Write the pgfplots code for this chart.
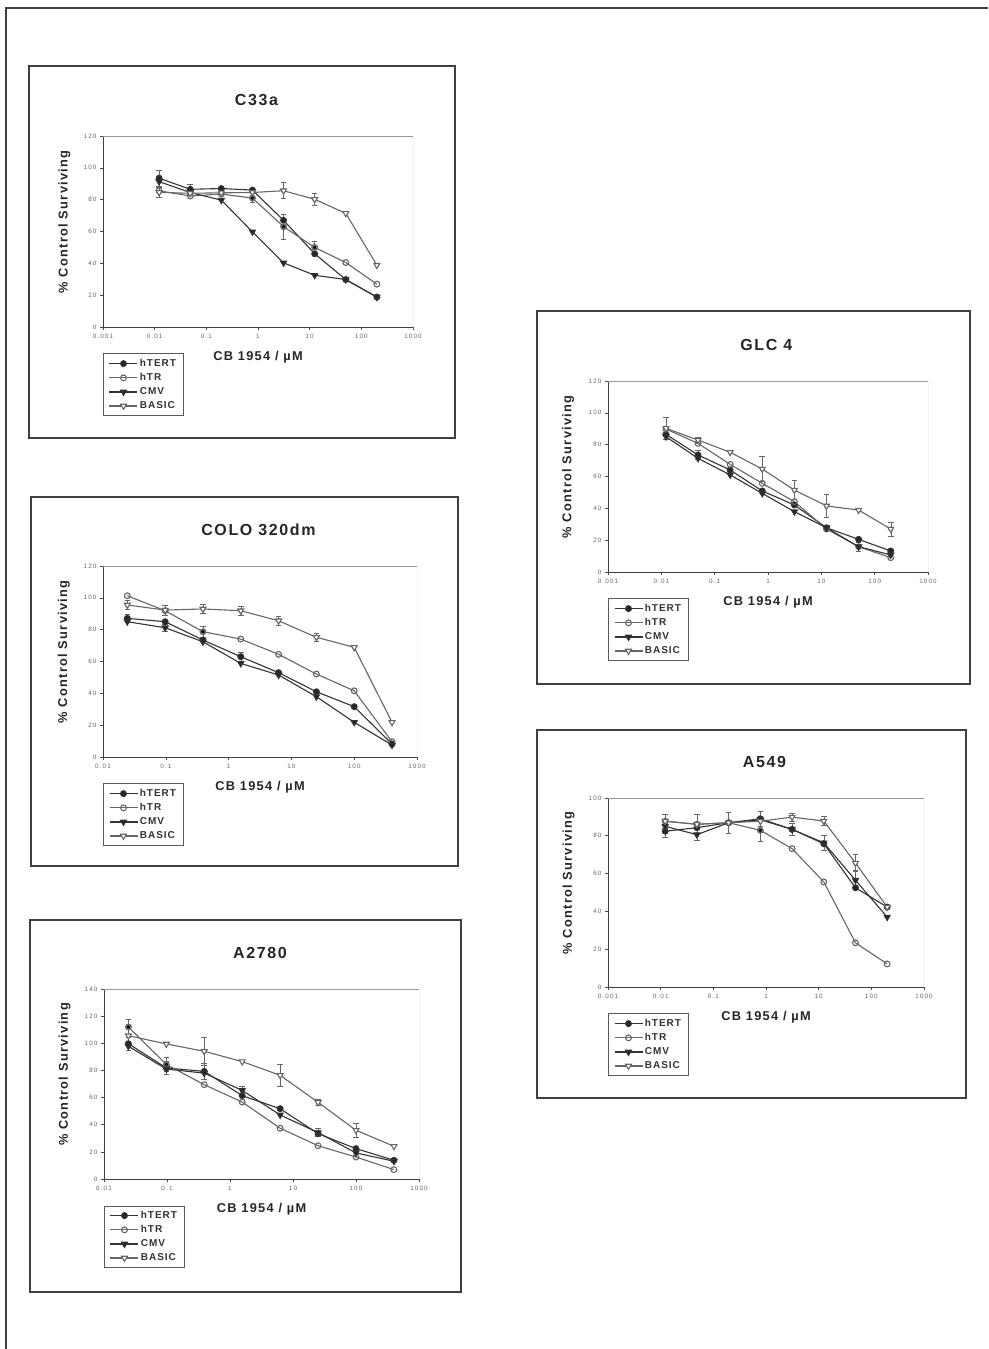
\documentclass[border=0pt]{standalone}
\usepackage{fontspec}
\setmainfont{Liberation Sans}
\newfontfamily\lsp[LetterSpace=10]{Liberation Sans}
\newfontfamily\tickfont[LetterSpace=18]{Liberation Sans}
\usepackage{pgfplots}
\pgfplotsset{compat=1.18}
\pgfplotsset{
  serT/.style={color=black!80, line width=1.1pt, mark=*, mark size=2.9pt, mark options={solid, fill=black!85}},
  serR/.style={color=black!60, line width=1.1pt, mark=o, mark size=2.9pt, mark options={solid, fill=white}},
  serC/.style={color=black!80, line width=1.1pt, mark=triangle*, mark size=3.4pt, mark options={solid, rotate=180, fill=black!85}},
  serB/.style={color=black!60, line width=1.1pt, mark=triangle*, mark size=3.4pt, mark options={solid, rotate=180, fill=white}},
  errb/.style={forget plot, draw=black!60, line width=0.7pt, only marks, mark=none,
    error bars/y dir=both, error bars/y explicit,
    error bars/error mark options={rotate=90, mark size=2.8pt, line width=0.7pt, black!60}},
  cpanel/.style={
    scale only axis, xminorticks=false,
    axis x line*=bottom, axis y line*=left,
    axis line style={black!75, line width=0.8pt},
    tick style={black!70, line width=0.6pt}, tick align=outside, major tick length=3pt,
    ticklabel style={font=\tickfont\fontsize{6.3}{7}\selectfont, text=black!60},
    xticklabel style={yshift=-1pt},
    every axis x label/.style={at={(axis description cs:0.5,-0.16)}, anchor=center},
    every axis y label/.style={at={(axis description cs:-0.125,0.55)}, rotate=90, anchor=center},
    label style={font=\lsp\bfseries\fontsize{12.8}{13}\selectfont, text=black!85},
    every axis title/.style={at={(axis description cs:0.495,1.19)}, anchor=center,
      font=\lsp\bfseries\fontsize{16}{17}\selectfont, text=black!85},
    xlabel={CB 1954 / µM}, ylabel={\% Control Surviving},
    legend cell align=left,
    legend image code/.code={\draw[mark repeat=2, mark phase=2] plot coordinates {(0pt,0pt) (14pt,0pt) (28pt,0pt)};},
    legend style={at={(0,0)}, anchor=north west, yshift=-26.5pt, draw=black!65, line width=0.9pt,
      font=\lsp\bfseries\fontsize{10}{11}\selectfont, text=black!80,
      inner xsep=5.5pt, inner ysep=3.5pt, row sep=1.9pt, nodes={inner sep=1.8pt}},
    execute at end axis={\draw[black!40, line width=0.6pt] (rel axis cs:0,1) -- (rel axis cs:1,1) -- (rel axis cs:1,0);},
  },
  xdecA/.style={xmin=0.001, xmax=1000, xtick={0.001,0.01,0.1,1,10,100,1000}, xticklabels={0.001,0.01,0.1,1,10,100,1000}},
  xdecB/.style={xmin=0.01, xmax=1000, xtick={0.01,0.1,1,10,100,1000}, xticklabels={0.01,0.1,1,10,100,1000}},
}
\begin{document}
\begin{tikzpicture}
\useasboundingbox (0pt,0pt) rectangle (988pt,1349pt);
\draw[black!75, line width=1.3pt] (6pt,0pt) -- (6pt,1341pt) -- (988pt,1341pt);
\draw[black!75, line width=1.2pt] (29pt,911pt) rectangle (455pt,1283pt);
\draw[black!75, line width=1.2pt] (537pt,665pt) rectangle (970pt,1038pt);
\draw[black!75, line width=1.2pt] (31pt,483pt) rectangle (458pt,852pt);
\draw[black!75, line width=1.2pt] (537pt,251pt) rectangle (966pt,619pt);
\draw[black!75, line width=1.2pt] (30pt,57pt) rectangle (461pt,429pt);

% ---------- C33a ----------
\begin{semilogxaxis}[cpanel, xdecA, at={(103pt,1022pt)}, anchor=south west, width=310pt, height=191pt,
  ymin=0, ymax=120, ytick={0,20,...,120}, yticklabels={0,20,40,60,80,100,120}, title={C33a}]
\addplot[errb] coordinates {(0.0122,93.5) +- (0,5) (0.0122,84.6) +- (0,3) (0.0488,86.5) +- (0,3)
  (0.781,81) +- (0,3) (3.125,67) +- (0,4) (3.125,63) +- (0,8) (3.125,85.6) +- (0,5)
  (12.5,80.2) +- (0,4) (12.5,50) +- (0,4)};
\addplot[serT] coordinates {(0.0122,93.5) (0.0488,86.5) (0.195,87) (0.781,86) (3.125,67) (12.5,46) (50,29.8) (200,18.8)};
\addlegendentry{hTERT}
\addplot[serR] coordinates {(0.0122,85.6) (0.0488,82.3) (0.195,83.5) (0.781,81) (3.125,63) (12.5,50) (50,40.5) (200,26.9)};
\addlegendentry{hTR}
\addplot[serC] coordinates {(0.0122,91.3) (0.0488,84.5) (0.195,79.7) (0.781,59.8) (3.125,40.3) (12.5,32.5) (50,29.8) (200,18.8)};
\addlegendentry{CMV}
\addplot[serB] coordinates {(0.0122,84.6) (0.0488,84) (0.195,84.3) (0.781,84.5) (3.125,85.6) (12.5,80.2) (50,71.4) (200,38.8)};
\addlegendentry{BASIC}
\end{semilogxaxis}

% ---------- GLC 4 ----------
\begin{semilogxaxis}[cpanel, xdecA, at={(608pt,777pt)}, anchor=south west, width=320pt, height=191pt,
  ymin=0, ymax=120, ytick={0,20,...,120}, yticklabels={0,20,40,60,80,100,120}, title={GLC 4}]
\addplot[errb] coordinates {(0.0122,90.3) +- (0,7) (0.0488,82.9) +- (0,2) (0.0488,73.5) +- (0,3)
  (0.781,64.7) +- (0,8) (3.125,51.5) +- (0,6) (12.5,41.5) +- (0,7) (50,15.9) +- (0,3) (200,27) +- (0,4.5)};
\addplot[serT] coordinates {(0.0122,86.5) (0.0488,73.5) (0.195,64.1) (0.781,50.9) (3.125,42.1) (12.5,27.8) (50,20.5) (200,13.2)};
\addlegendentry{hTERT}
\addplot[serR] coordinates {(0.0122,89.8) (0.0488,80.8) (0.195,67.6) (0.781,55.7) (3.125,44.2) (12.5,27) (50,15.9) (200,9)};
\addlegendentry{hTR}
\addplot[serC] coordinates {(0.0122,85) (0.0488,71.4) (0.195,61) (0.781,49.4) (3.125,37.9) (12.5,27.8) (50,15.9) (200,10.7)};
\addlegendentry{CMV}
\addplot[serB] coordinates {(0.0122,90.3) (0.0488,82.9) (0.195,75.2) (0.781,64.7) (3.125,51.5) (12.5,41.5) (50,38.9) (200,27)};
\addlegendentry{BASIC}
\end{semilogxaxis}

% ---------- COLO 320dm ----------
\begin{semilogxaxis}[cpanel, xdecB, at={(103pt,592pt)}, anchor=south west, width=314pt, height=191pt,
  ymin=0, ymax=120, ytick={0,20,...,120}, yticklabels={0,20,40,60,80,100,120}, title={COLO 320dm}]
\addplot[errb] coordinates {(0.0244,87.1) +- (0,2.5) (0.0244,95.5) +- (0,3) (0.0977,92.3) +- (0,3)
  (0.0977,81.2) +- (0,2) (0.39,93) +- (0,3) (0.39,78.7) +- (0,3.5) (1.5625,91.9) +- (0,3)
  (1.5625,63) +- (0,3) (6.25,85.6) +- (0,3) (25,75.2) +- (0,2.5)};
\addplot[serT] coordinates {(0.0244,87.1) (0.0977,85) (0.39,73.5) (1.5625,63) (6.25,53) (25,41) (100,31.6) (400,8.2)};
\addlegendentry{hTERT}
\addplot[serR] coordinates {(0.0244,101.3) (0.0977,91.9) (0.39,78.7) (1.5625,74.1) (6.25,64.5) (25,52.1) (100,41.6) (400,9.6)};
\addlegendentry{hTR}
\addplot[serC] coordinates {(0.0244,85) (0.0977,81.2) (0.39,72.4) (1.5625,58.8) (6.25,51.5) (25,37.9) (100,21.8) (400,7.5)};
\addlegendentry{CMV}
\addplot[serB] coordinates {(0.0244,95.5) (0.0977,92.3) (0.39,93) (1.5625,91.9) (6.25,85.6) (25,75.2) (100,68.9) (400,21.8)};
\addlegendentry{BASIC}
\end{semilogxaxis}

% ---------- A549 ----------
\begin{semilogxaxis}[cpanel, xdecA, at={(608pt,362pt)}, anchor=south west, width=316pt, height=189pt,
  ymin=0, ymax=100, ytick={0,20,...,100}, yticklabels={0,20,40,60,80,100}, title={A549}]
\addplot[errb] coordinates {(0.0122,87.7) +- (0,3.5) (0.0122,82.4) +- (0,3) (0.0488,86.1) +- (0,5)
  (0.0488,80.6) +- (0,3) (0.195,86.9) +- (0,5.5) (0.781,82.9) +- (0,6) (0.781,89) +- (0,4)
  (3.125,89.9) +- (0,2) (3.125,83.4) +- (0,3) (12.5,87.8) +- (0,2.5) (12.5,76.3) +- (0,4)
  (50,65.6) +- (0,4.5) (50,56.5) +- (0,5)};
\addplot[serT] coordinates {(0.0122,82.4) (0.0488,84.3) (0.195,86.9) (0.781,89) (3.125,83.4) (12.5,75.8) (50,52.5) (200,42.3)};
\addlegendentry{hTERT}
\addplot[serR] coordinates {(0.0122,87.7) (0.0488,86.1) (0.195,86.9) (0.781,82.9) (3.125,73.2) (12.5,55.6) (50,23.4) (200,12.2)};
\addlegendentry{hTR}
\addplot[serC] coordinates {(0.0122,85) (0.0488,80.6) (0.195,86.9) (0.781,88.5) (3.125,83.4) (12.5,76.3) (50,56.5) (200,37)};
\addlegendentry{CMV}
\addplot[serB] coordinates {(0.0122,87.7) (0.0488,86.1) (0.195,86.9) (0.781,87.7) (3.125,89.9) (12.5,87.8) (50,65.6) (200,42.3)};
\addlegendentry{BASIC}
\end{semilogxaxis}

% ---------- A2780 ----------
\begin{semilogxaxis}[cpanel, xdecB, at={(104pt,170pt)}, anchor=south west, width=315pt, height=190pt,
  ymin=0, ymax=140, ytick={0,20,...,140}, yticklabels={0,20,40,60,80,100,120,140}, title={A2780}]
\addplot[errb] coordinates {(0.0244,112) +- (0,6) (0.0244,99.7) +- (0,5) (0.0977,84.4) +- (0,5)
  (0.0977,81.8) +- (0,5) (0.39,94.1) +- (0,10) (0.39,79.3) +- (0,6) (1.5625,65.3) +- (0,3)
  (6.25,76.4) +- (0,8) (25,56.5) +- (0,2) (25,34.2) +- (0,3) (100,35.9) +- (0,5)};
\addplot[serT] coordinates {(0.0244,99.7) (0.0977,81.8) (0.39,79.3) (1.5625,61.4) (6.25,51.8) (25,33.4) (100,22.4) (400,13.8)};
\addlegendentry{hTERT}
\addplot[serR] coordinates {(0.0244,112) (0.0977,84.4) (0.39,69.5) (1.5625,56.7) (6.25,37.4) (25,24.5) (100,16.2) (400,6.9)};
\addlegendentry{hTR}
\addplot[serC] coordinates {(0.0244,97.8) (0.0977,81) (0.39,78) (1.5625,65.3) (6.25,47.2) (25,34.2) (100,19.2) (400,13.1)};
\addlegendentry{CMV}
\addplot[serB] coordinates {(0.0244,105.6) (0.0977,99.5) (0.39,94.1) (1.5625,86.5) (6.25,76.4) (25,56.5) (100,35.9) (400,24.1)};
\addlegendentry{BASIC}
\end{semilogxaxis}
\end{tikzpicture}
\end{document}
